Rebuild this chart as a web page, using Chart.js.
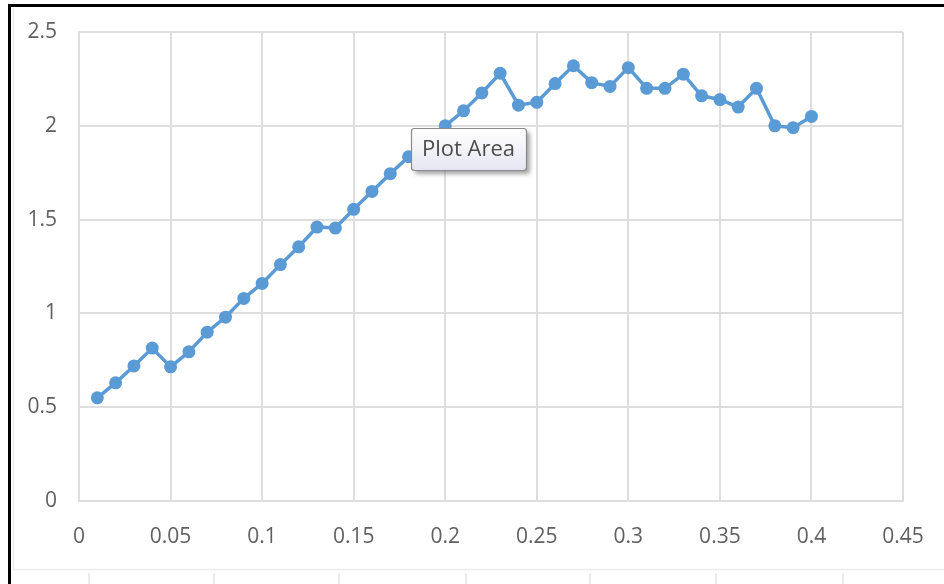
<!DOCTYPE html>
<html>
<head>
<meta charset="utf-8">
<script src="https://cdn.jsdelivr.net/npm/chart.js@4/dist/chart.umd.min.js"></script>
<style>
  html, body { margin: 0; padding: 0; background: #ffffff; }
  #wrap { position: relative; width: 944px; height: 584px; }
</style>
</head>
<body>
<div id="wrap"><canvas id="chart" width="944" height="584"></canvas></div>
<script>
// Series values
const xValues = [0.01, 0.02, 0.03, 0.04, 0.05, 0.06, 0.07, 0.08, 0.09, 0.10,
                 0.11, 0.12, 0.13, 0.14, 0.15, 0.16, 0.17, 0.18, 0.19, 0.20,
                 0.21, 0.22, 0.23, 0.24, 0.25, 0.26, 0.27, 0.28, 0.29, 0.30,
                 0.31, 0.32, 0.33, 0.34, 0.35, 0.36, 0.37, 0.38, 0.39, 0.40];
const yValues = [0.55, 0.63, 0.72, 0.815, 0.715, 0.795, 0.90, 0.98, 1.08, 1.16,
                 1.26, 1.355, 1.46, 1.455, 1.555, 1.65, 1.745, 1.835, 1.92, 2.00,
                 2.08, 2.175, 2.28, 2.11, 2.125, 2.225, 2.32, 2.23, 2.21, 2.31,
                 2.20, 2.20, 2.275, 2.16, 2.14, 2.10, 2.20, 2.00, 1.99, 2.05];

// Axis tick labels
const xTickLabels = ['0', '0.05', '0.1', '0.15', '0.2', '0.25', '0.3', '0.35', '0.4', '0.45'];
const yTickLabels = ['0', '0.5', '1', '1.5', '2', '2.5'];

// Hover caption shown over the plot
const captionText = 'Plot Area';
const captionAnchor = { x: 0.1815, y: 1.99 };

const points = xValues.map((x, i) => ({ x: x, y: yValues[i] }));

const FONT = '"Open Sans", "Noto Sans", sans-serif';
const GRID = '#dedede';

// Window frame, outer chart border and bottom ruler
const framePlugin = {
  id: 'frame',
  beforeDraw(chart) {
    const ctx = chart.ctx;
    ctx.save();
    ctx.fillStyle = '#ffffff';
    ctx.fillRect(0, 0, chart.width, chart.height);
    // light outer chart border
    ctx.strokeStyle = '#ececec';
    ctx.lineWidth = 1.5;
    ctx.beginPath();
    ctx.moveTo(13.5, 8);
    ctx.lineTo(13.5, 569.5);
    ctx.lineTo(944, 569.5);
    ctx.stroke();
    // ruler ticks below
    ctx.strokeStyle = '#e4e4e4';
    ctx.lineWidth = 1.5;
    [89, 214, 339, 466, 590, 716, 843].forEach(px => {
      ctx.beginPath();
      ctx.moveTo(px, 573);
      ctx.lineTo(px, 584);
      ctx.stroke();
    });
    // black frame edges
    ctx.fillStyle = '#000000';
    ctx.fillRect(8, 4, 936, 3);
    ctx.fillRect(8, 4, 3, 580);
    ctx.restore();
  },
  afterDraw(chart) {
    const ctx = chart.ctx;
    const xs = chart.scales.x, ys = chart.scales.y;
    const left = Math.round(xs.getPixelForValue(captionAnchor.x));
    const top = Math.round(ys.getPixelForValue(captionAnchor.y));
    ctx.save();
    ctx.font = '22px ' + FONT;
    const tw = ctx.measureText(captionText).width;
    const w = Math.round(tw + 22), h = 42;
    // drop shadow
    ctx.fillStyle = 'rgba(90,90,90,0.55)';
    ctx.filter = 'blur(2px)';
    ctx.beginPath();
    ctx.roundRect(left + 4, top + 4, w, h, 3);
    ctx.fill();
    ctx.filter = 'none';
    // box
    const g = ctx.createLinearGradient(0, top, 0, top + h);
    g.addColorStop(0, '#ffffff');
    g.addColorStop(1, '#e6e6f2');
    ctx.fillStyle = g;
    ctx.beginPath();
    ctx.roundRect(left + 0.5, top + 0.5, w, h, 3);
    ctx.fill();
    ctx.strokeStyle = '#8a8a8a';
    ctx.lineWidth = 1.2;
    ctx.stroke();
    ctx.fillStyle = '#4d4d4d';
    ctx.textBaseline = 'middle';
    ctx.textAlign = 'left';
    ctx.fillText(captionText, left + 11, top + h / 2 + 1);
    ctx.restore();
  }
};

new Chart(document.getElementById('chart'), {
  type: 'scatter',
  data: {
    datasets: [{
      data: points,
      showLine: true,
      borderColor: '#5b9bd5',
      backgroundColor: '#5b9bd5',
      borderWidth: 3.5,
      pointRadius: 6.5,
      pointHoverRadius: 6.5,
      pointBackgroundColor: '#5b9bd5',
      pointBorderColor: '#5b9bd5',
      pointBorderWidth: 0,
      tension: 0
    }]
  },
  options: {
    responsive: false,
    animation: false,
    events: [],
    layout: { padding: { top: 32, right: 41, left: 0, bottom: 0 } },
    plugins: { legend: { display: false }, tooltip: { enabled: false } },
    scales: {
      x: {
        type: 'linear',
        min: 0,
        max: 0.45,
        afterFit(scale) { scale.height = 83; },
        afterBuildTicks(scale) {
          scale.ticks = xTickLabels.map(t => ({ value: parseFloat(t) }));
        },
        ticks: {
          callback: (v, i) => xTickLabels[i],
          color: '#606060',
          font: { family: FONT, size: 21 },
          padding: 0,
          maxRotation: 0,
          autoSkip: false
        },
        grid: { color: GRID, lineWidth: 2, drawTicks: true, tickLength: 23, tickColor: 'rgba(0,0,0,0)' },
        border: { color: GRID, width: 2 }
      },
      y: {
        type: 'linear',
        min: 0,
        max: 2.5,
        afterFit(scale) { scale.width = 79; },
        afterBuildTicks(scale) {
          scale.ticks = yTickLabels.map(t => ({ value: parseFloat(t) }));
        },
        ticks: {
          callback: (v, i) => yTickLabels[i],
          color: '#606060',
          font: { family: FONT, size: 21 },
          padding: 0,
          autoSkip: false
        },
        grid: { color: GRID, lineWidth: 2, drawTicks: true, tickLength: 22, tickColor: 'rgba(0,0,0,0)' },
        border: { color: GRID, width: 2 }
      }
    }
  },
  plugins: [framePlugin]
});
</script>
</body>
</html>
